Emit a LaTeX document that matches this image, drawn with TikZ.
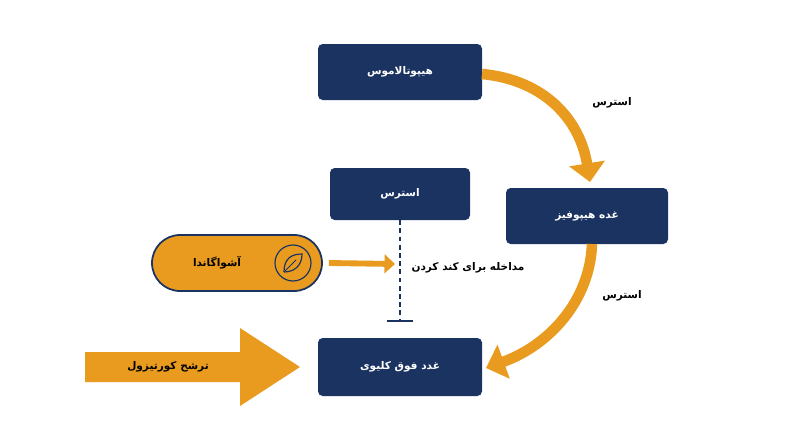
\documentclass[tikz,border=0pt]{standalone}
\usepackage{fontspec}
\newfontfamily\ar[Script=Arabic]{DejaVu Sans}
\TeXXeTstate=1
\newcommand{\fa}[1]{{\ar\beginR #1\endR}}
\usetikzlibrary{arrows.meta}
\definecolor{navy}{HTML}{1B3361}
\definecolor{org}{HTML}{E89B1F}
\begin{document}
\begin{tikzpicture}[x=0.03cm,y=-0.03cm,
 box/.style={fill=navy,rounded corners=4pt,text=white,font=\bfseries\small,inner sep=0pt},
 lab/.style={font=\small\bfseries,text=black},
 oarr/.style={org,line width=9pt,-{Triangle[length=16pt,width=30pt]}}]
\useasboundingbox (0,0) rectangle (800,447);
\node[box,minimum width=164*0.03cm,minimum height=56*0.03cm] (hyp) at (400,72) {\fa{هیپوتالاموس}};
\node[box,minimum width=162*0.03cm,minimum height=56*0.03cm] (pit) at (587,216) {\fa{غده هیپوفیز}};
\node[box,minimum width=140*0.03cm,minimum height=52*0.03cm] (str) at (400,194) {\fa{استرس}};
\node[box,minimum width=164*0.03cm,minimum height=58*0.03cm] (adr) at (400,367) {\fa{غدد فوق کلیوی}};
\node[fill=org,draw=navy,line width=1.5pt,rounded corners=28*0.03cm,minimum width=170*0.03cm,minimum height=56*0.03cm,inner sep=0pt] (ash) at (237,263) {};
\node[font=\bfseries\small,text=black] (asht) at (217,263) {\fa{آشواگاندا}};
\node[circle,draw=navy,line width=1pt,minimum size=36*0.03cm,inner sep=0pt] (icon) at (293,263) {};
\draw[navy,line width=1pt] (284,272) .. controls (284,258) and (292,254) .. (302,254) .. controls (302,266) and (294,272) .. (284,272);
\draw[navy,line width=0.8pt] (284,272) -- (296,260);
\coordinate (ae) at (395,264);
\draw[org,line width=5pt,-{Triangle[length=9pt,width=16pt]}] (ash.east) ++(6,0) -- (ae);
\coordinate (tb) at (400,321);
\draw[navy,line width=1.5pt,dash pattern=on 4pt off 3pt] (str.south) -- (tb);
\draw[navy,line width=1.5pt] (387,321) -- (413,321);
\node[lab] (med) at (468,268) {\fa{مداخله برای کند کردن}};
\coordinate (a1s) at (482,74); \coordinate (a1e) at (590,182);
\draw[oarr] (a1s) .. controls (545,80) and (580,120) .. (a1e);
\node[lab] (l1) at (612,103) {\fa{استرس}};
\coordinate (a2s) at (592,244); \coordinate (a2e) at (486,368);
\draw[oarr] (a2s) .. controls (590,300) and (550,345) .. (a2e);
\node[lab] (l2) at (622,296) {\fa{استرس}};
\coordinate (c1) at (85,352); \coordinate (c2) at (300,367);
\fill[org] (85,352) -- (240,352) -- (240,328) -- (300,367) -- (240,406) -- (240,382) -- (85,382) -- cycle;
\node[lab] (cort) at (168,367) {\fa{ترشح کورتیزول}};
\end{tikzpicture}
\end{document}
